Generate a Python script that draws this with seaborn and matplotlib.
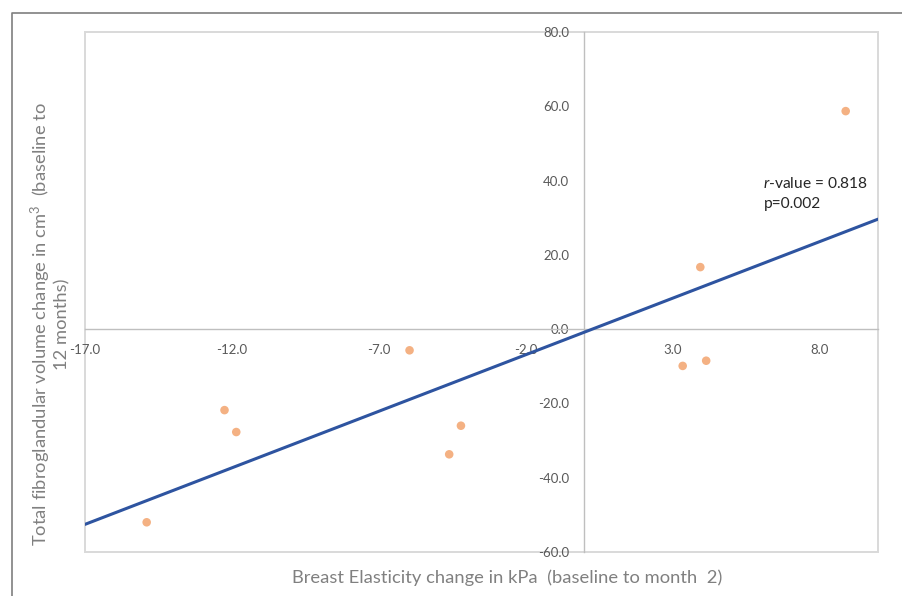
import numpy as np
import pandas as pd
import matplotlib
matplotlib.use("Agg")
import matplotlib.pyplot as plt
from matplotlib.lines import Line2D
from matplotlib.patches import Rectangle
import seaborn as sns

# ---- data ----
elasticity_change = [-14.9, -12.25, -11.85, -5.95, -4.6, -4.2, 3.35, 4.15, 3.95, 8.9]
volume_change = [-52.0, -21.8, -27.7, -5.7, -33.7, -26.0, -9.9, -8.5, 16.7, 58.7]
x_ticks = [-17.0, -12.0, -7.0, -2.0, 3.0, 8.0]
y_ticks = [-60.0, -40.0, -20.0, 0.0, 20.0, 40.0, 60.0, 80.0]
x_label = "Breast Elasticity change in kPa  (baseline to month  2)"
y_label = "Total fibroglandular volume change in cm$^3$  (baseline to\n12 months)"
annotation = ["$\\mathit{r}$-value = 0.818", "p=0.002"]

df = pd.DataFrame({"x": elasticity_change, "y": volume_change})

sns.set_theme(style="white")
plt.rcParams["font.family"] = ["Lato", "DejaVu Sans"]
plt.rcParams["mathtext.fontset"] = "custom"
plt.rcParams["mathtext.it"] = "Lato:italic"
plt.rcParams["mathtext.rm"] = "Lato"

fig = plt.figure(figsize=(9.02, 5.96), dpi=100)
ax = fig.add_axes([85 / 902, 1 - 552 / 596, 793 / 902, 520 / 596])

ax.set_xlim(-17, 10)
ax.set_ylim(-60, 80)

sns.regplot(data=df, x="x", y="y", ax=ax, scatter=False, ci=None, truncate=False,
            line_kws=dict(color="#2E54A0", lw=2.2, zorder=3))
sns.scatterplot(data=df, x="x", y="y", ax=ax, color="#F4B183", s=38,
                edgecolor="none", zorder=4)

ax.set_xlim(-17, 10)
ax.set_ylim(-60, 80)

# spines through the origin
for side in ["top", "right"]:
    ax.spines[side].set_visible(False)
ax.spines["left"].set_position(("data", 0))
ax.spines["bottom"].set_position(("data", 0))
for side in ["left", "bottom"]:
    ax.spines[side].set_color("#bfbfbf")
    ax.spines[side].set_linewidth(1.0)
    ax.spines[side].set_zorder(1)

# plot-area frame
ax.add_patch(Rectangle((0, 0), 1, 1, transform=ax.transAxes, fill=False,
                       edgecolor="#d9d9d9", lw=1.4, clip_on=False, zorder=0))

ax.set_xticks(x_ticks)
ax.set_yticks(y_ticks)
ax.set_xticklabels([f"{v:.1f}" for v in x_ticks])
ax.set_yticklabels([f"{v:.1f}" for v in y_ticks])
ax.tick_params(axis="x", length=0, pad=11, labelsize=9.5, labelcolor="#595959")
ax.tick_params(axis="y", length=0, pad=11, labelsize=9.5, labelcolor="#595959")
ax.grid(False)

ax.set_xlabel(x_label, fontsize=13.2, color="#808080")
ax.set_ylabel(y_label, fontsize=13.2, color="#808080", linespacing=1.05)
ax.xaxis.set_label_coords((507 - 85) / 793, -(569 - 552) / 520)
ax.xaxis.label.set_va("top")
ax.yaxis.set_label_coords((70 - 85) / 793, (552 - 324) / 520)

ax.text(6.1, 41.3, annotation[0] + "\n" + annotation[1], fontsize=11.2,
        color="#262626", ha="left", va="top", linespacing=1.55)

# outer frame (left and top edges)
fig.add_artist(Line2D([12 / 902, 12 / 902, 1.0], [0.0, 1 - 13 / 596, 1 - 13 / 596],
                      transform=fig.transFigure, color="#7f7f7f", lw=1.2))

fig.savefig("out.png", dpi=100)
